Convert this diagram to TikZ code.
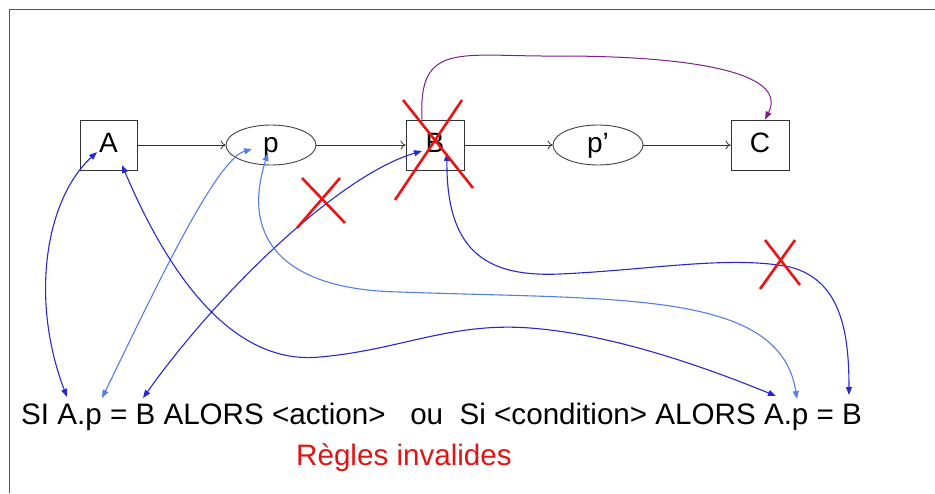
\documentclass[tikz,border=0pt]{standalone}
\usepackage{fontspec}
\setmainfont{Liberation Sans}
\usetikzlibrary{arrows.meta,shapes.geometric}
\definecolor{dblue}{RGB}{40,40,210}
\definecolor{lblue}{RGB}{85,125,235}
\definecolor{purp}{RGB}{125,30,140}
\definecolor{xred}{RGB}{235,20,20}
\definecolor{txtred}{RGB}{225,20,20}
\definecolor{framegray}{RGB}{85,85,85}
\begin{document}
\begin{tikzpicture}[x=1pt,y=-1pt,
  box/.style={draw=black!80,line width=0.9pt,minimum width=58pt,minimum height=50pt,inner sep=0pt,text height=20pt,text depth=6pt,font=\fontsize{28}{30}\selectfont},
  oval/.style={ellipse,draw=black!75,line width=0.9pt,minimum width=90pt,minimum height=40pt,inner sep=0pt,text height=20pt,text depth=6pt,font=\fontsize{28}{30}\selectfont},
  flow/.style={draw=black!80,line width=0.8pt,-{To[length=5pt,width=9pt]}},
  link/.style={line width=1.1pt,{Triangle[length=8pt,width=6pt]}-{Triangle[length=8pt,width=6pt]}},
  cross/.style={draw=xred,line width=2.6pt},
  ruletext/.style={anchor=base west,inner sep=0pt,font=\fontsize{29.6}{34}\selectfont}]

\useasboundingbox (0,0) rectangle (935,493);
\draw[framegray,line width=1.6pt] (9.5,493) -- (9.5,9.5) -- (935,9.5);

% nodes
\node[box,minimum width=57pt] (A) at (108.5,145) {A};
\node[oval] (p) at (271,145) {p};
\node[box] (B) at (435,145) {B};
\node[oval] (pp) at (598,145) {p’};
\node[box] (C) at (760,145) {C};

\node[ruletext] (r) at (21,424) {SI A.p = B ALORS <action>\ \ \ ou\ \ Si <condition> ALORS A.p = B};
\node[ruletext,text=txtred] (inv) at (296,465) {Règles invalides};

% anchor points
\coordinate (a1) at ([shift={(-11.5,7)}]A.center);
\coordinate (a2) at ([shift={(13.5,20)}]A.center);
\coordinate (p1) at ([shift={(-19,4)}]p.center);
\coordinate (p2) at ([shift={(-3,8)}]p.center);
\coordinate (b1) at ([shift={(-13,6)}]B.center);
\coordinate (b2) at ([shift={(12,8)}]B.center);
\coordinate (b0) at ([xshift=-13pt]B.north);
\coordinate (c1) at ([xshift=5pt]C.north);
\coordinate (t1) at ([shift={(46,-27)}]r.base west);
\coordinate (t2) at ([shift={(81,-26)}]r.base west);
\coordinate (t3) at ([shift={(122,-26)}]r.base west);
\coordinate (t4) at ([shift={(755,-28)}]r.base west);
\coordinate (t5) at ([shift={(776,-25)}]r.base west);
\coordinate (t6) at ([shift={(828,-29)}]r.base west);

% main chain
\draw[flow] (A) -- (p);
\draw[flow] (p) -- (B);
\draw[flow] (B) -- (pp);
\draw[flow] (pp) -- (C);

% purple arc
\draw[purp,line width=1pt,-{Triangle[length=8pt,width=6pt]}] (b0) .. controls (418,40) and (460,57) .. (560,56) .. controls (680,56) and (790,70) .. (c1);

% links
\draw[link,dblue] (a1) .. controls (45,200) and (30,300) .. (t1);
\draw[link,lblue] (p1) .. controls (215,160) and (150,300) .. (t2);
\draw[link,dblue] (b1) .. controls (340,175) and (220,290) .. (t3);
\draw[link,dblue] (a2) .. controls (175,290) and (240,365) .. (320,357) .. controls (400,350) and (450,322) .. (530,328) .. controls (610,334) and (700,365) .. (t4);
\draw[link,lblue] (p2) .. controls (240,240) and (285,290) .. (400,292) .. controls (620,300) and (780,290) .. (t5);
\draw[link,dblue] (b2) .. controls (446,255) and (490,277) .. (560,274) .. controls (650,270) and (730,255) .. (790,267) .. controls (840,280) and (849,330) .. (t6);

% red crosses
\draw[cross] (403,100) -- (473,188);
\draw[cross] (462,100) -- (395,200);
\draw[cross] (302,178) -- (345,223);
\draw[cross] (340,178) -- (297,228);
\draw[cross] (765,240) -- (800,285);
\draw[cross] (795,240) -- (760,289);
\end{tikzpicture}
\end{document}
